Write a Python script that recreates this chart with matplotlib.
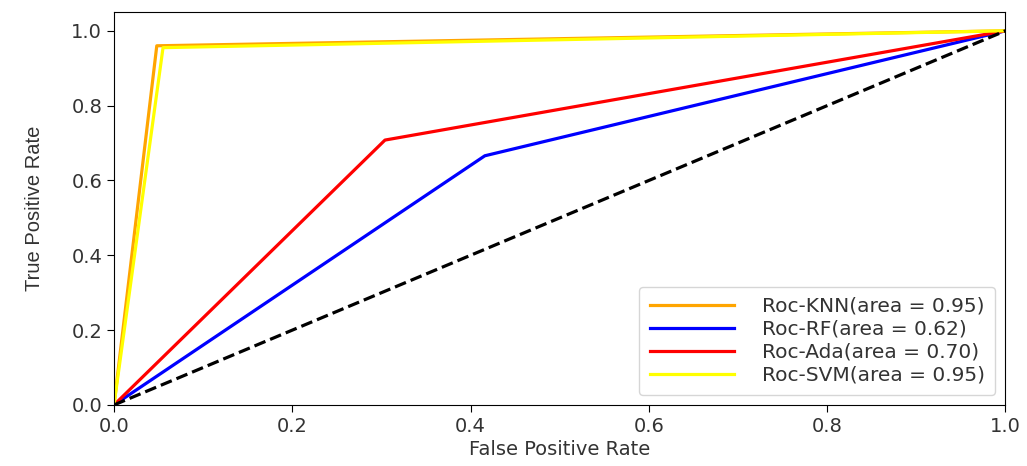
# ROC curves for four classifiers
import matplotlib.pyplot as plt

models = ["KNN", "RF", "Ada", "SVM"]
colors = ["orange", "blue", "red", "yellow"]
fpr = [[0.0, 0.048, 1.0],
       [0.0, 0.416, 1.0],
       [0.0, 0.304, 1.0],
       [0.0, 0.055, 1.0]]
tpr = [[0.0, 0.960, 1.0],
       [0.0, 0.666, 1.0],
       [0.0, 0.708, 1.0],
       [0.0, 0.955, 1.0]]
auc = [0.95, 0.62, 0.70, 0.95]

fig = plt.figure(figsize=(10.27, 4.66), dpi=100)
ax = fig.add_axes([0.111, 0.131, 0.868, 0.843])
for name, c, x, y, a in zip(models, colors, fpr, tpr, auc):
    ax.plot(x, y, color=c, lw=2.3, label='Roc-%s(area = %0.2f)' % (name, a))
ax.plot([0, 1], [0, 1], color='black', lw=2.3, linestyle='--')
ax.set_xlim(0.0, 1.0)
ax.set_ylim(0.0, 1.05)
ax.tick_params(labelsize=14, length=5)
for t in ax.get_xticklabels() + ax.get_yticklabels():
    t.set_color('#333333')
ax.set_xlabel('False Positive Rate', fontsize=14, labelpad=3, color='#333333')
ax.set_ylabel('True Positive Rate', fontsize=14.5, family='Liberation Sans',
              labelpad=20, color='#333333')
leg = ax.legend(loc='lower right', fontsize=14.5, handlelength=4.2,
                handletextpad=1.4, labelspacing=0.2, borderpad=0.5)
for t in leg.get_texts():
    t.set_color('#333333')
fig.savefig('out.png')
